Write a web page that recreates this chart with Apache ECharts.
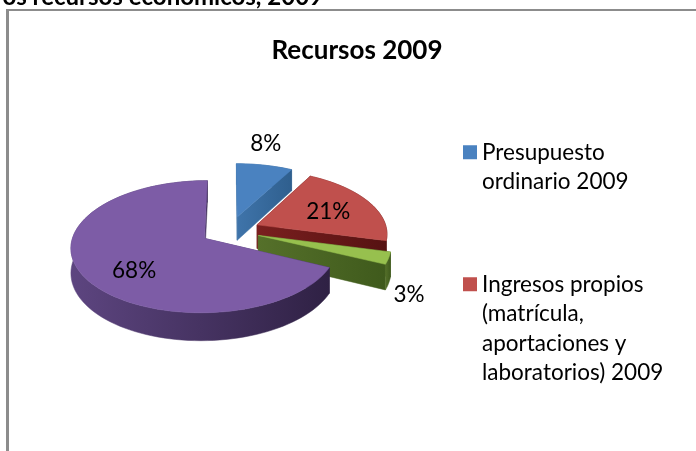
<!DOCTYPE html>
<html><head><meta charset="utf-8">
<style>html,body{margin:0;padding:0;background:#fff}#c{width:696px;height:451px}</style>
<script src="https://cdn.jsdelivr.net/npm/echarts@6/dist/echarts.min.js"></script>
</head><body><div id="c"></div>
<script>
const categories = ['Presupuesto ordinario 2009','Ingresos propios (matrícula, aportaciones y laboratorios) 2009','Otros ingresos 2009','Recursos federales 2009'];
const values = [8,21,3,68];
const legendLines = [['Presupuesto','ordinario 2009'],['Ingresos propios','(matrícula,','aportaciones y','laboratorios) 2009']];
const topColors = ['#4a82c0','#c0504d','#97c04e','#7d5ca6'];
const wallStops = [['#3f74aa','#2f5f8e'],['#7a1f1f','#561212'],['#55702a','#3f5a1c'],['#5d4580','#2f2144']];
const labelPlace = [{r:1.47,shift:-4},{r:.61,shift:2},{r:1.3,shift:20},{r:.68,shift:-10.6}];
const FONT = 'Lato, "Noto Sans", sans-serif';
const CX=230, CY=230.5, RX=130, RY=63, K=.125, DEPTH=24, EXPLODE=.229;
const total = values.reduce((a,b)=>a+b,0);
const rad = p => p/total*Math.PI*2;
function project(X,Y,z){const w=1-K*Y;return [CX+RX*X/w, CY+RY*Y/w+(z?DEPTH/w:0)];}
function sliceShapes(i){
  const before = values.slice(0,i).reduce((a,b)=>a+b,0);
  const a0=rad(before), a1=rad(before+values[i]), mid=(a0+a1)/2;
  const ex=EXPLODE*Math.sin(mid), ey=-EXPLODE*Math.cos(mid);
  const pt=(a,r)=>[ex+r*Math.sin(a), ey-r*Math.cos(a)];
  const arcT=[],arcB=[];
  const n=Math.max(6,Math.round(values[i]*1.5));
  for(let j=0;j<=n;j++){const a=a0+(a1-a0)*j/n,p=pt(a,1);arcT.push(project(p[0],p[1],false));arcB.push(project(p[0],p[1],true));}
  const apexT=project(ex,ey,false), apexB=project(ex,ey,true);
  const grad={type:'linear',x:0,y:0,x2:1,y2:0,colorStops:[{offset:0,color:wallStops[i][0]},{offset:1,color:wallStops[i][1]}]};
  const poly=(points,fill)=>({type:'polygon',shape:{points},style:{fill,stroke:fill,lineWidth:.5}});
  const lp=labelPlace[i], la=mid+lp.shift*Math.PI/180, l=pt(la,lp.r), lpos=project(l[0],l[1],false);
  return {type:'group',children:[
    poly([apexT,arcT[0],arcB[0],apexB],grad),
    poly([apexT,arcT[n],arcB[n],apexB],grad),
    poly(arcT.concat(arcB.slice().reverse()),grad),
    poly([apexT].concat(arcT),topColors[i]),
    {type:'text',style:{text:values[i]+'%',x:lpos[0]+1,y:lpos[1],align:'center',verticalAlign:'middle',fill:'#000',font:'22.5px '+FONT}}
  ]};
}
const blank = k => Array(k).fill('').join('\n');
const padded = lines => blank(lines.length-1+1)+'\n'+lines.join('\n');
const chart = echarts.init(document.getElementById('c'));
chart.setOption({
  animation:false,
  backgroundColor:'#fff',
  title:{text:'Recursos 2009',left:352,top:46,textAlign:'center',textVerticalAlign:'middle',
    textStyle:{fontFamily:FONT,fontSize:26,fontWeight:'bold',color:'#000'}},
  legend:[0,1].map(i=>({
    orient:'vertical',left:458,top:i===0?103:176,itemWidth:14,itemHeight:14,icon:'rect',
    data:[categories[i]],
    formatter:()=>padded(legendLines[i]).replace(/^\n/,''),
    textStyle:{fontFamily:FONT,fontSize:22.5,lineHeight:29.5,color:'#000'},itemGap:0,selectedMode:false
  })),
  graphic:[
    {type:'rect',shape:{x:6,y:9,width:3,height:442},style:{fill:'#8c8c8c'},silent:true},
    {type:'rect',shape:{x:6,y:9,width:690,height:2},style:{fill:'#8c8c8c'},silent:true},
    {type:'text',style:{text:'os recursos económicos, 2009',x:323,y:-3,align:'right',verticalAlign:'middle',fill:'#000',font:'bold 24px '+FONT},silent:true}
  ],
  series:categories.map((name,i)=>({
    type:'custom',name,coordinateSystem:'none',silent:true,
    itemStyle:{color:topColors[i]},
    data:[[values[i]]],
    renderItem:()=>sliceShapes(i)
  }))
});
</script></body></html>
